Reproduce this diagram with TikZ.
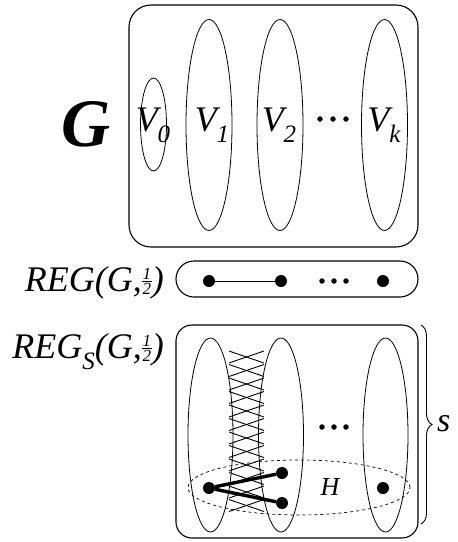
\documentclass[tikz,border=0pt]{standalone}
\usepackage{fontspec}
\setmainfont{Liberation Serif}
\usetikzlibrary{shapes.geometric,decorations.pathreplacing}

% italic subscript, set lower and smaller than the base letter
\newcommand{\lowsub}[1]{\raisebox{-11pt}{\fontsize{25}{25}\selectfont\itshape #1}}
% small italic one-half, stacked over a rule
\newcommand{\half}{\raisebox{-3pt}{\fontsize{17}{17}\selectfont\itshape
  \vbox{\hbox to 10pt{\hss 1\hss}\kern1pt\hrule height 0.9pt\kern1pt\hbox to 10pt{\hss 2\hss}}}}

\tikzset{
  lbl/.style={font=\itshape\fontsize{36}{40}\selectfont, inner sep=0pt},
  frame/.style={draw, line width=1.1pt},
  part/.style={draw, ellipse, line width=0.8pt, inner sep=0pt},
  vtx/.style={circle, fill=black, minimum size=12pt, inner sep=0pt},
  tiny/.style={circle, fill=black, minimum size=5.5pt, inner sep=0pt},
  thickedge/.style={line width=3.4pt},
  hatch/.style={line width=0.9pt},
}

\begin{document}
\begin{tikzpicture}[x=1pt,y=-1pt]
\useasboundingbox (0,0) rectangle (458,542);

% ---------- the graph G and its partition ----------
\node[font=\bfseries\itshape\fontsize{68}{70}\selectfont, inner sep=0pt] (G) at (86,124) {G};
\draw[frame, rounded corners=22pt] (129,5) rectangle (418,247);
\node[part, minimum width=26pt, minimum height=93pt] (V0) at (153.5,124.5) {};
\node[part, minimum width=46pt, minimum height=211pt] (V1) at (209,125) {};
\node[part, minimum width=46pt, minimum height=211pt] (V2) at (280,125) {};
\node[part, minimum width=46pt, minimum height=211pt] (Vk) at (384.5,125) {};
\node[lbl, anchor=base] (V0lbl) at (153,131) {V\lowsub{0}};
\node[lbl, anchor=base] (V1lbl) at (212,131) {V\lowsub{1}};
\node[lbl, anchor=base] (V2lbl) at (279,131) {V\lowsub{2}};
\node[lbl, anchor=base] (Vklbl) at (384,131) {V\lowsub{k}};
\node[tiny] (gd1) at (320,119) {};
\node[tiny] (gd2) at (333,119) {};
\node[tiny] (gd3) at (346,119) {};

% ---------- reduced graph REG(G,1/2) ----------
\node[lbl, anchor=base east] (reglbl) at (164,291) {REG(G,\half)};
\draw[frame, rounded corners=18pt] (176,261) rectangle (418,297);
\node[vtx] (r1) at (209,281) {};
\node[vtx] (r2) at (281,281) {};
\node[vtx] (rk) at (383,281) {};
\draw[line width=0.9pt] (r1) -- (r2);
\node[tiny] (rd1) at (322,281) {};
\node[tiny] (rd2) at (334,281) {};
\node[tiny] (rd3) at (346,281) {};

% ---------- blow-up REG_s(G,1/2) ----------
\node[lbl, anchor=base east] (regslbl) at (164,358) {REG\lowsub{S}(G,\half)};
\draw[frame, rounded corners=16pt] (176,325) rectangle (418,538);
\node[part, minimum width=45pt, minimum height=194pt] (B1) at (210.5,435) {};
\node[part, minimum width=45pt, minimum height=194pt] (B2) at (281,435) {};
\node[part, minimum width=45pt, minimum height=194pt] (Bk) at (385.5,435) {};

% dense pair between the first two clusters
\foreach \i in {0,...,11}{
  \draw[hatch] (229,{351+13.5*\i}) -- (264,{363+13.5*\i});
  \draw[hatch] (229,{363+13.5*\i}) -- (264,{351+13.5*\i});
}

\node[tiny] (bd1) at (322,427) {};
\node[tiny] (bd2) at (334,427) {};
\node[tiny] (bd3) at (346,427) {};

% subgraph H
\node[draw, dashed, ellipse, line width=0.7pt, minimum width=222pt, minimum height=55pt] (H) at (299,487.5) {};
\node[font=\itshape\fontsize{26}{28}\selectfont, inner sep=0pt] (Hlbl) at (330,487) {H};
\node[vtx] (a) at (209,488) {};
\node[vtx] (b) at (282,473) {};
\node[vtx] (c) at (282,503) {};
\node[vtx] (d) at (383,488) {};
\draw[thickedge] (a) -- (b);
\draw[thickedge] (a) -- (c);

% brace for s
\coordinate (bt) at (421,325);
\coordinate (bb) at (421,524);
\draw[line width=0.9pt, decorate, decoration={brace, amplitude=11pt}] (bt) -- (bb);
\node[font=\itshape\fontsize{34}{36}\selectfont, inner sep=0pt, anchor=west] (slbl) at (437,424) {s};
\end{tikzpicture}
\end{document}
